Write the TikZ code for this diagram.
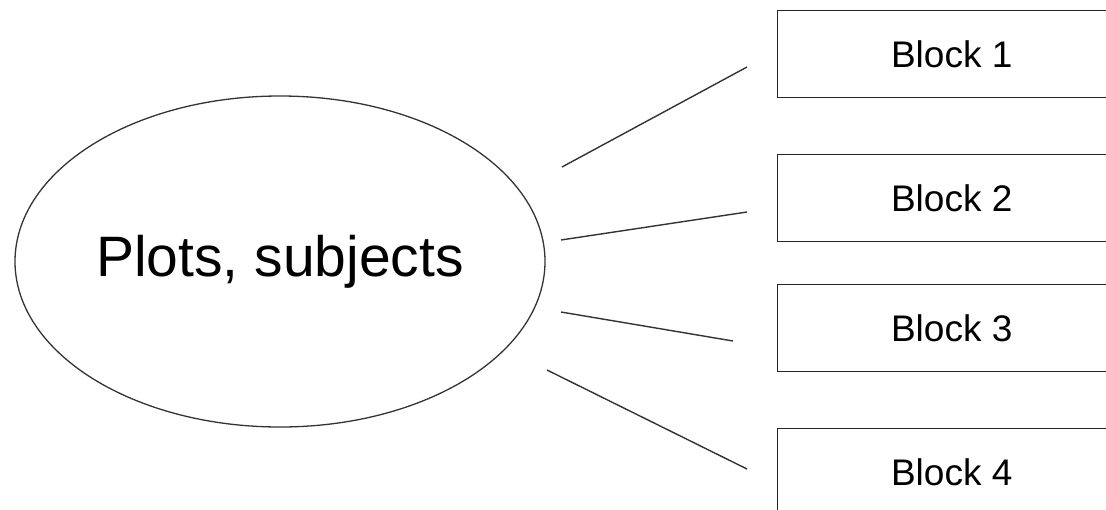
\documentclass[tikz,border=0pt]{standalone}
\usepackage{fontspec}
\setmainfont{Liberation Sans}
\usetikzlibrary{shapes.geometric}
\begin{document}
\begin{tikzpicture}[x=1pt,y=-1pt,
  blockbox/.style={draw=black!85, line width=1.4pt, minimum width=348pt, minimum height=87pt, inner sep=0pt, font=\fontsize{37}{42}\selectfont, anchor=north west},
  linkline/.style={draw=black!80, line width=1.4pt}]
\useasboundingbox (0,0) rectangle (1106,509);
\clip (0,0) rectangle (1106,509);
\node[draw=black!80, line width=1.3pt, ellipse, minimum width=530pt, minimum height=331pt, inner sep=0pt,
  font=\fontsize{57}{62}\selectfont] (topic) at (280,261.5) {Plots, subjects};
\node[blockbox] (b1) at (777,10) {Block 1};
\node[blockbox] (b2) at (777,154) {Block 2};
\node[blockbox] (b3) at (777,284) {Block 3};
\node[blockbox] (b4) at (777,428) {Block 4};
\coordinate (s1) at (562,167); \coordinate (e1) at (747,67);
\coordinate (s2) at (561,240); \coordinate (e2) at (747,212);
\coordinate (s3) at (561,312); \coordinate (e3) at (733,341);
\coordinate (s4) at (547,370); \coordinate (e4) at (747,469);
\draw[linkline] (s1) -- (e1);
\draw[linkline] (s2) -- (e2);
\draw[linkline] (s3) -- (e3);
\draw[linkline] (s4) -- (e4);
\end{tikzpicture}
\end{document}
